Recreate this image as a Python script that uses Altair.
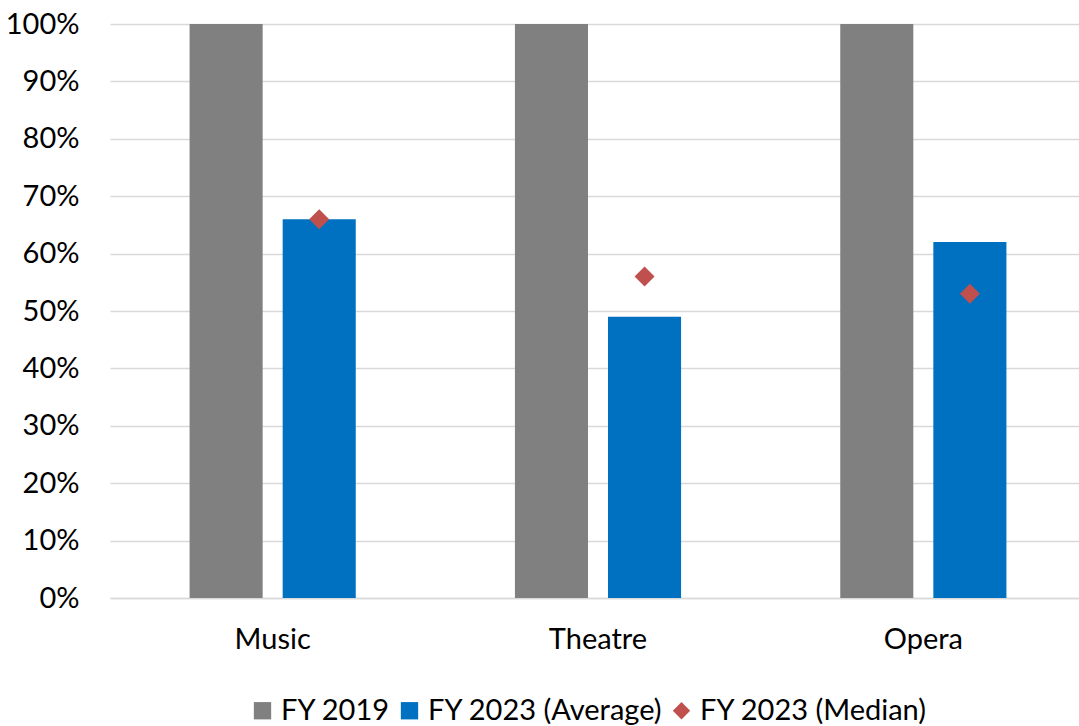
import altair as alt
import pandas as pd

categories = ["Music", "Theatre", "Opera"]
fy2019 = [1.00, 1.00, 1.00]
fy2023_avg = [0.66, 0.49, 0.62]
fy2023_median = [0.66, 0.56, 0.53]

series = ["FY 2019", "FY 2023 (Average)", "FY 2023 (Median)"]
colors = ["#808080", "#0070C0", "#C0504D"]
shapes = ["square", "square", "diamond"]

rows = []
for c, a, b, m in zip(categories, fy2019, fy2023_avg, fy2023_median):
    rows.append({"cat": c, "series": series[0], "slot": series[0], "value": a})
    rows.append({"cat": c, "series": series[1], "slot": series[1], "value": b})
    rows.append({"cat": c, "series": series[2], "slot": series[1], "value": m})
df = pd.DataFrame(rows)

FONT = "Lato"
FS = 29

x = alt.X("cat:N", sort=categories, title=None,
          scale=alt.Scale(paddingInner=0, paddingOuter=0, range=[0, 976]),
          axis=alt.Axis(labelAngle=0, ticks=False, domain=True, domainColor="#d9d9d9",
                        domainWidth=1.5, labelPadding=27, labelFontSize=FS,
                        labelFont=FONT, labelColor="#000000", grid=False))
xoff = alt.XOffset("slot:N", sort=series[:2],
                   scale=alt.Scale(domain=series[:2], paddingInner=0.215, paddingOuter=0.855))
y = alt.Y("value:Q", title=None,
          scale=alt.Scale(domain=[0, 1], nice=False),
          axis=alt.Axis(format=".0%", values=[i / 10 for i in range(11)], ticks=False,
                        domain=False, gridColor="#d9d9d9", gridWidth=1.5,
                        labelPadding=31, labelFontSize=FS, labelFont=FONT,
                        labelColor="#000000"))
color = alt.Color("series:N", title=None,
                  scale=alt.Scale(domain=series, range=colors),
                  legend=alt.Legend(orient="none", direction="horizontal", legendX=138,
                                    legendY=672, labelFontSize=FS, labelFont=FONT,
                                    labelColor="#000000", symbolSize=300, labelLimit=0,
                                    symbolStrokeWidth=0, columnPadding=4,
                                    labelOffset=4, padding=0))
shape = alt.Shape("series:N", title=None, scale=alt.Scale(domain=series, range=shapes))

bars = alt.Chart(df).transform_filter(
    alt.FieldOneOfPredicate(field="series", oneOf=series[:2])
).mark_bar().encode(x=x, xOffset=xoff, y=y, color=color, shape=shape)

pts = alt.Chart(df).transform_filter(
    alt.FieldEqualPredicate(field="series", equal=series[2])
).mark_point(filled=True, size=400, opacity=1).encode(x=x, xOffset=xoff, y=y, color=color, shape=shape)

chart = alt.layer(bars, pts).properties(
    width=969, height=574,
    autosize=alt.AutoSizeParams(type="none"),
    padding={"left": 110, "top": 24, "right": 0, "bottom": 128},
    background="#ffffff",
).configure_view(stroke=None)

chart.save("out.html", embed_options={"renderer": "svg", "actions": False})
